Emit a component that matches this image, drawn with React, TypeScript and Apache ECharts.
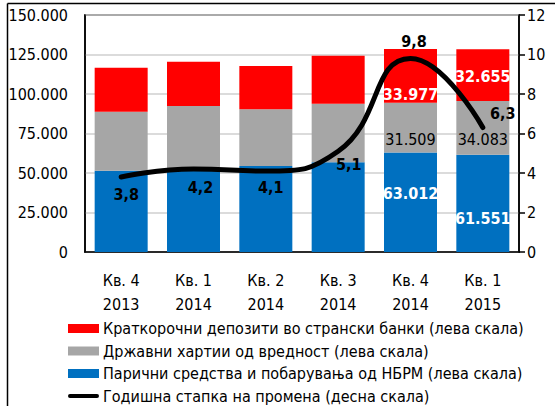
import React, { useEffect, useRef } from "react";
import * as echarts from "echarts";

const categories = ["Кв. 4\n2013", "Кв. 1\n2014", "Кв. 2\n2014", "Кв. 3\n2014", "Кв. 4\n2014", "Кв. 1\n2015"];
const cashNBRM = [51450, 52300, 54400, 56770, 63012, 61551];
const govSecurities = [37350, 40100, 35900, 37090, 31509, 34083];
const shortDeposits = [27850, 28000, 27400, 30380, 33977, 32655];
const annualRate = [3.8, 4.2, 4.1, 5.1, 9.8, 6.3];
const leftTicks = { min: 0, max: 150000, interval: 25000 };
const rightTicks = { min: 0, max: 12, interval: 2 };

const names = [
  "Краткорочни депозити во странски банки (лева скала)",
  "Државни хартии од вредност (лева скала)",
  "Парични средства и побарувања од НБРМ (лева скала)",
  "Годишна стапка на промена (десна скала)",
];

const FONT = "'DejaVu Sans Condensed', 'DejaVu Sans', sans-serif";

const fmtThousands = (v: number) => {
  if (v === 0) return "0";
  const s = String(Math.round(v));
  return s.replace(/\B(?=(\d{3})+(?!\d))/g, ".");
};

export default function App() {
  const ref = useRef<HTMLDivElement>(null);
  useEffect(() => {
    if (!ref.current) return;
    const chart = echarts.init(ref.current, undefined, { renderer: "svg" });

    const labelOn = (idx: number, cfg: any) => ({ idx, cfg });
    const redLabels = [labelOn(4, { offset: [0, 19] }), labelOn(5, { offset: [0, 1] })];
    const grayLabels = [labelOn(4, { offset: [0, 12] }), labelOn(5, { offset: [0, 12] })];
    const blueLabels = [labelOn(4, { offset: [0, -9] }), labelOn(5, { offset: [0, 15] })];
    const lineOffsets = [[5, 18], [7, 18.5], [5, 16.5], [10.5, 13.7], [3.5, -16.8], [20, -13.6]];

    const barData = (vals: number[], labels: any[], color: string, bold: boolean) =>
      vals.map((v, i) => {
        const l = labels.find((x) => x.idx === i);
        if (!l) return v;
        return {
          value: v,
          label: {
            show: true,
            position: "inside",
            offset: l.cfg.offset,
            color,
            fontWeight: bold ? "bold" : "normal",
            fontSize: 16,
            fontFamily: FONT,
            formatter: (p: any) => fmtThousands(p.value),
          },
        };
      });

    const option: any = {
      animation: false,
      textStyle: { fontFamily: FONT },
      grid: {
        left: 85,
        right: 36,
        top: 15,
        bottom: 154,
        show: true,
        borderColor: "#000",
        borderWidth: 1.5,
      },
      graphic: [
        { type: "line", shape: { x1: 7.5, y1: 3.5, x2: 555, y2: 3.5 }, style: { stroke: "#000", lineWidth: 1.5 } },
        { type: "line", shape: { x1: 7.5, y1: 3.5, x2: 7.5, y2: 406 }, style: { stroke: "#000", lineWidth: 1.5 } },
      ],
      legend: {
        orient: "vertical",
        left: 68,
        top: 319,
        height: 120,
        itemWidth: 31,
        itemHeight: 9,
        itemGap: 3.5,
        padding: 0,
        selectedMode: false,
        textStyle: { fontSize: 16, color: "#000", fontFamily: FONT, lineHeight: 19, padding: [0, 0, 0, -1] },
        data: [
          { name: names[0], icon: "rect" },
          { name: names[1], icon: "rect" },
          { name: names[2], icon: "rect" },
          { name: names[3], icon: "path://M2,0 H30 A2,2 0 0 1 30,4 H2 A2,2 0 0 1 2,0 Z" },
        ],
      },
      xAxis: {
        type: "category",
        data: categories,
        axisLine: { lineStyle: { color: "#000", width: 1.5 } },
        axisTick: { show: false },
        axisLabel: { color: "#000", fontSize: 16, lineHeight: 24, margin: 16, fontFamily: FONT },
      },
      yAxis: [
        {
          type: "value",
          min: leftTicks.min,
          max: leftTicks.max,
          interval: leftTicks.interval,
          axisLine: { show: true, lineStyle: { color: "#000", width: 1.5 } },
          axisTick: { show: false },
          splitLine: { lineStyle: { color: "#CFCFCF", width: 1.5 } },
          axisLabel: { color: "#000", fontSize: 16, margin: 17, fontFamily: FONT, formatter: fmtThousands },
        },
        {
          type: "value",
          position: "right",
          min: rightTicks.min,
          max: rightTicks.max,
          interval: rightTicks.interval,
          axisLine: { show: true, lineStyle: { color: "#000", width: 1.5 } },
          axisTick: { show: true, length: 6, lineStyle: { color: "#000", width: 1.5 } },
          splitLine: { show: false },
          axisLabel: { color: "#000", fontSize: 16, margin: 8, fontFamily: FONT },
        },
      ],
      series: [
        {
          name: names[2],
          type: "bar",
          stack: "a",
          barWidth: 53,
          itemStyle: { color: "#0070C0" },
          data: barData(cashNBRM, blueLabels, "#fff", true),
        },
        {
          name: names[1],
          type: "bar",
          stack: "a",
          barWidth: 53,
          itemStyle: { color: "#A6A6A6" },
          data: barData(govSecurities, grayLabels, "#000", false),
        },
        {
          name: names[0],
          type: "bar",
          stack: "a",
          barWidth: 53,
          itemStyle: { color: "#FF0000" },
          data: barData(shortDeposits, redLabels, "#fff", true),
        },
        {
          name: names[3],
          type: "line",
          yAxisIndex: 1,
          smooth: 0.5,
          symbol: "circle",
          symbolSize: 0.1,
          showSymbol: true,
          itemStyle: { color: "#000" },
          lineStyle: { color: "#000", width: 5, cap: "round" },
          z: 10,
          data: annualRate.map((v, i) => ({
            value: v,
            label: {
              show: true,
              position: "inside",
              offset: lineOffsets[i],
              color: "#000",
              fontWeight: "bold",
              fontSize: 16,
              fontFamily: FONT,
              formatter: (p: any) => String(p.value).replace(".", ","),
            },
          })),
        },
      ],
    };
    chart.setOption(option);
    return () => chart.dispose();
  }, []);
  return (
    <div
      ref={ref}
      style={{ position: "absolute", left: 0, top: 0, width: 555, height: 406, background: "#fff" }}
    />
  );
}
